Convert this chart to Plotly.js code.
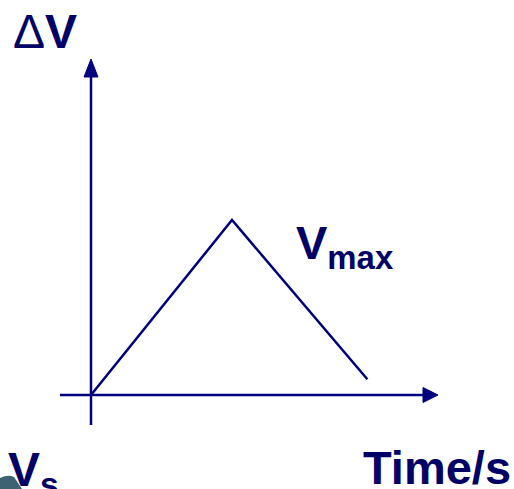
<!DOCTYPE html>
<html>
<head>
<meta charset="utf-8">
<script src="https://cdn.plot.ly/plotly-3.0.1.min.js"></script>
<style>html,body{margin:0;padding:0;background:#fff;}#chart{width:514px;height:489px;}</style>
</head>
<body>
<div id="chart"></div>
<script>
// Data (time in arbitrary units, voltage change in arbitrary units)
const time = [0, 5, 9.8];
const deltaV = [0, 10, 0.9];

// Labels
const yLabel = 'Δ<b>V</b>';
const xLabel = '<b>Time/s</b>';
const peakLabel = '<b>V<sub>max</sub></b>';
const cornerLabel = '<b>V<sub>s</sub></b>';

const W = 514, H = 489;
const LINE = '#00007f', TEXT = '#000066';
const FONT = 'Liberation Sans, Arial, sans-serif';

// axis geometry (data units)
const xr = [-3.227, 15.0], yr = [-5.3714, 22.5714];
const sx = (xr[1]-xr[0])/W, sy = (yr[1]-yr[0])/H; // data units per pixel

const trace = {
  x: time, y: deltaV, type: 'scatter', mode: 'lines',
  line: {color: LINE, width: 2.5}, hoverinfo: 'skip', showlegend: false
};

const xTip = 12.305, yTip = 19.2;
const headLx = 15*sx, headHx = 7.5*sy;
const headLy = 18*sy, headHy = 7*sx;

const shapes = [
  // horizontal axis
  {type:'line', xref:'x', yref:'y', x0:-1.099, y0:0, x1:xTip-headLx+0.05, y1:0, line:{color:LINE, width:2.5}},
  {type:'path', xref:'x', yref:'y', path:`M ${xTip} 0 L ${xTip-headLx} ${headHx} L ${xTip-headLx} ${-headHx} Z`, fillcolor:LINE, line:{color:LINE, width:1}},
  // vertical axis
  {type:'line', xref:'x', yref:'y', x0:0, y0:-1.714, x1:0, y1:yTip-headLy+0.1, line:{color:LINE, width:2.5}},
  {type:'path', xref:'x', yref:'y', path:`M 0 ${yTip} L ${headHy} ${yTip-headLy} L ${-headHy} ${yTip-headLy} Z`, fillcolor:LINE, line:{color:LINE, width:1}},
  // corner decoration (bottom-left)
  {type:'path', xref:'paper', yref:'paper', path:`M 0 ${1-478/H} Q ${8/W} ${1-474/H} ${14/W} ${1-477/H} L ${22/W} 0 L 0 0 Z`, fillcolor:'#3f6272', line:{width:0}}
];

const ann = (text, px, py, size, xanchor, yanchor) => ({
  text, x: px/W, y: 1-py/H, xref:'paper', yref:'paper', showarrow:false,
  xanchor, yanchor, font:{family:FONT, size, color:TEXT}
});

const layout = {
  width: W, height: H,
  margin: {l:0, r:0, t:0, b:0},
  paper_bgcolor: '#ffffff', plot_bgcolor: '#ffffff',
  xaxis: {range: xr, visible:false, fixedrange:true},
  yaxis: {range: yr, visible:false, fixedrange:true},
  shapes,
  annotations: [
    ann(yLabel, 45, 31, 48, 'center', 'middle'),
    ann(peakLabel, 294, 246, 47, 'left', 'middle'),
    ann(xLabel, 437, 467, 47, 'center', 'middle'),
    ann(cornerLabel, 6, 473, 48, 'left', 'middle')
  ]
};

Plotly.newPlot('chart', [trace], layout, {staticPlot:true, displayModeBar:false});
</script>
</body>
</html>
